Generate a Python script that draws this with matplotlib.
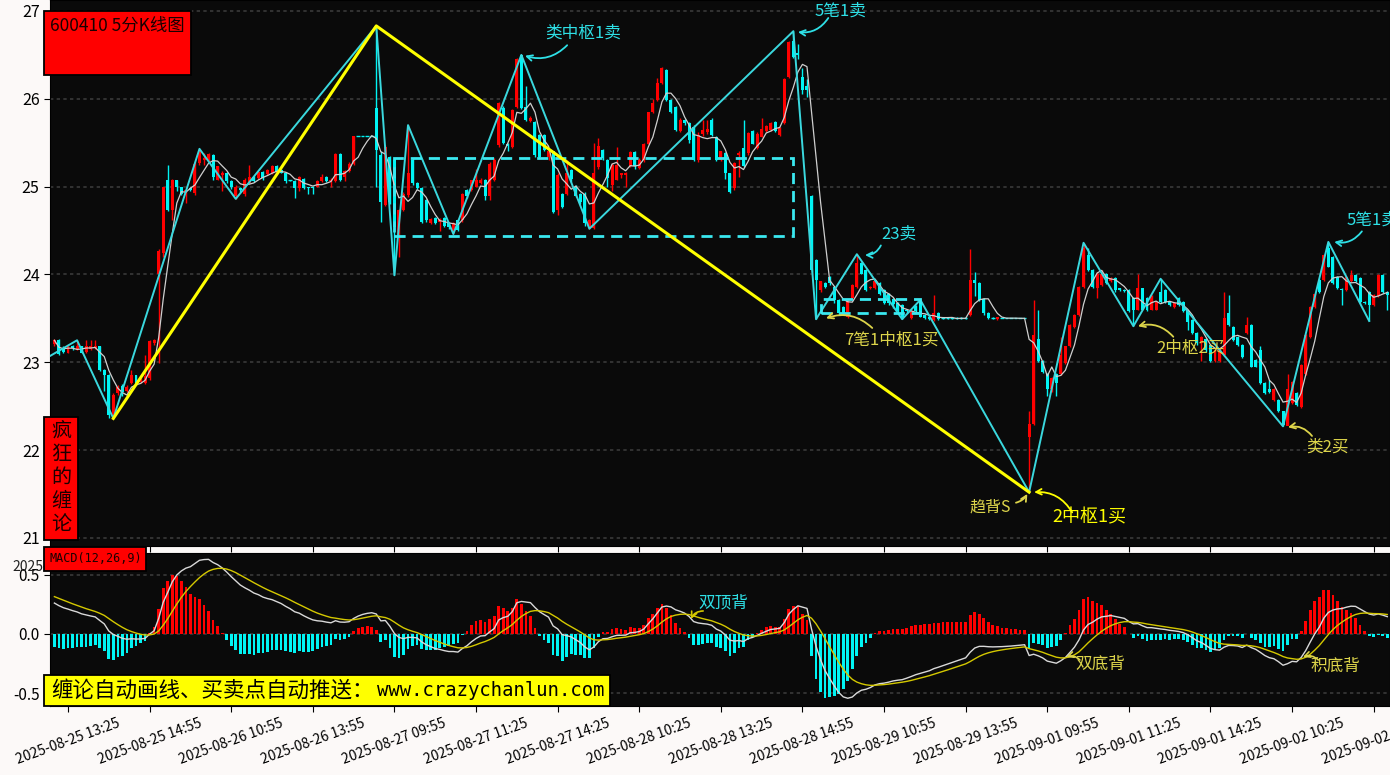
import numpy as np
import pandas as pd
import matplotlib
matplotlib.use("Agg")
import matplotlib.pyplot as plt
from matplotlib.patches import Rectangle

plt.rcParams['font.family'] = ['Noto Sans CJK SC', 'DejaVu Sans']
plt.rcParams['axes.unicode_minus'] = False

W, H = 1390, 775

# x tick labels (one every 18 five-minute bars, first at bar 3)
tick_labels = ["2025-08-25 13:25", "2025-08-25 14:55", "2025-08-26 10:55", "2025-08-26 13:55",
               "2025-08-27 09:55", "2025-08-27 11:25", "2025-08-27 14:25", "2025-08-28 10:25",
               "2025-08-28 13:25", "2025-08-28 14:55", "2025-08-29 10:55", "2025-08-29 13:55",
               "2025-09-01 09:55", "2025-09-01 11:25", "2025-09-01 14:25", "2025-09-02 10:25",
               "2025-09-02 13:25"]

# 5-minute bars
open_ = [
    23.21, 23.25, 23.16, 23.11, 23.18, 23.15, 23.18, 23.12, 23.15, 23.16,
    23.18, 22.91, 22.86, 22.39, 22.65, 22.73, 22.67, 22.76, 22.85, 22.77,
    22.76, 22.82, 23.22, 24.00, 24.24, 25.07, 24.73, 25.07, 24.99, 24.94,
    24.98, 24.93, 25.27, 25.30, 25.30, 25.36, 25.08, 25.13, 25.16, 25.06,
    24.89, 24.98, 24.91, 25.04, 25.11, 25.10, 25.17, 25.14, 25.15, 25.24,
    25.19, 25.16, 25.07, 25.06, 24.98, 25.09, 24.99, 25.00, 25.00, 25.06,
    25.11, 25.06, 25.06, 25.37, 25.11, 25.18, 25.26, 25.58, 25.58, 25.58,
    25.58, 25.89, 25.36, 24.79, 25.34, 25.30, 24.45, 24.73, 24.90, 25.30,
    25.04, 24.98, 24.85, 24.59, 24.64, 24.60, 24.64, 24.59, 24.49, 24.62,
    24.62, 24.96, 24.96, 25.00, 25.04, 25.08, 24.89, 25.07, 25.47, 25.90,
    25.49, 25.45, 25.91, 26.50, 25.91, 25.75, 25.74, 25.59, 25.59, 25.34,
    25.40, 24.73, 24.92, 24.92, 25.19, 25.00, 24.92, 24.92, 24.53, 24.53,
    25.22, 25.42, 25.30, 25.02, 25.08, 25.13, 25.13, 25.23, 25.39, 25.21,
    25.30, 25.49, 25.85, 25.99, 26.18, 26.33, 25.99, 25.91, 25.63, 25.76,
    25.72, 25.68, 25.30, 25.60, 25.62, 25.76, 25.57, 25.30, 25.38, 25.15,
    24.98, 25.36, 25.44, 25.38, 25.63, 25.44, 25.57, 25.63, 25.64, 25.74,
    25.59, 25.72, 26.25, 26.66, 26.52, 26.25, 26.14, 24.89, 24.16, 23.82,
    23.90, 23.97, 23.86, 23.71, 23.63, 23.52, 23.73, 23.86, 24.13, 24.05,
    23.84, 23.84, 23.90, 23.82, 23.78, 23.72, 23.68, 23.65, 23.59, 23.50,
    23.64, 23.69, 23.54, 23.51, 23.48, 23.56, 23.50, 23.50, 23.50, 23.50,
    23.50, 23.50, 23.54, 23.94, 23.90, 23.72, 23.56, 23.50, 23.49, 23.50,
    23.50, 23.50, 23.50, 23.50, 23.50, 22.15, 22.30, 23.27, 23.01, 22.87,
    22.70, 22.87, 22.87, 22.99, 23.18, 23.40, 23.54, 23.86, 24.22, 24.05,
    23.84, 23.88, 24.01, 23.92, 23.96, 23.84, 23.82, 23.82, 23.73, 23.60,
    23.84, 23.73, 23.60, 23.60, 23.80, 23.82, 23.69, 23.63, 23.73, 23.69,
    23.58, 23.48, 23.33, 23.22, 23.27, 23.20, 23.01, 23.01, 23.08, 23.56,
    23.40, 23.29, 23.20, 23.33, 23.42, 23.03, 23.14, 22.76, 22.70, 22.57,
    22.57, 22.44, 22.27, 22.53, 22.65, 22.49, 22.87, 23.29, 23.63, 23.94,
    23.94, 24.30, 24.20, 23.97, 23.83, 23.82, 23.92, 23.99, 23.96, 23.69,
    23.80, 23.65, 23.75, 23.99, 23.80,
]
close = [
    23.25, 23.09, 23.12, 23.18, 23.16, 23.18, 23.11, 23.18, 23.18, 23.19,
    22.91, 22.86, 22.40, 22.63, 22.72, 22.66, 22.72, 22.85, 22.76, 22.80,
    22.84, 23.24, 23.25, 24.27, 24.99, 24.73, 25.08, 24.99, 24.92, 24.96,
    24.96, 25.26, 25.42, 25.32, 25.37, 25.11, 25.23, 25.15, 25.06, 24.99,
    25.00, 24.96, 25.08, 25.11, 25.06, 25.17, 25.10, 25.19, 25.24, 25.17,
    25.16, 25.06, 25.07, 24.98, 25.11, 24.98, 24.98, 24.98, 25.06, 25.11,
    25.06, 25.08, 25.37, 25.07, 25.18, 25.26, 25.58, 25.58, 25.58, 25.58,
    25.58, 25.42, 24.82, 25.45, 24.82, 24.54, 24.73, 24.92, 25.15, 25.04,
    24.98, 24.60, 24.62, 24.63, 24.58, 24.63, 24.55, 24.54, 24.59, 24.51,
    24.92, 24.89, 25.07, 25.08, 25.07, 24.89, 25.26, 25.30, 25.95, 25.50,
    25.46, 25.87, 26.45, 25.89, 25.76, 25.78, 25.36, 25.34, 25.42, 25.40,
    24.71, 25.13, 24.77, 25.15, 25.09, 24.89, 24.83, 24.58, 24.62, 25.15,
    25.46, 25.32, 25.10, 25.25, 25.25, 25.15, 25.15, 25.39, 25.23, 25.30,
    25.49, 25.85, 25.95, 26.18, 26.35, 25.99, 25.85, 25.65, 25.76, 25.72,
    25.53, 25.30, 25.59, 25.65, 25.66, 25.59, 25.30, 25.40, 25.15, 24.94,
    25.27, 25.38, 25.23, 25.61, 25.49, 25.60, 25.66, 25.69, 25.72, 25.63,
    25.67, 26.23, 26.65, 26.48, 26.50, 26.10, 26.10, 24.05, 23.94, 23.92,
    23.86, 23.90, 23.71, 23.56, 23.56, 23.71, 23.88, 24.13, 24.01, 23.82,
    23.86, 23.92, 23.78, 23.67, 23.67, 23.66, 23.58, 23.52, 23.58, 23.58,
    23.58, 23.52, 23.50, 23.49, 23.56, 23.49, 23.50, 23.50, 23.50, 23.50,
    23.50, 23.50, 23.94, 23.90, 23.71, 23.56, 23.50, 23.50, 23.51, 23.50,
    23.50, 23.50, 23.50, 23.50, 23.50, 22.30, 23.31, 23.01, 22.89, 22.70,
    22.82, 22.76, 23.08, 23.18, 23.42, 23.54, 23.86, 24.30, 24.05, 23.86,
    24.01, 24.01, 23.90, 23.96, 23.82, 23.82, 23.81, 23.58, 23.60, 23.84,
    23.60, 23.60, 23.75, 23.69, 23.69, 23.69, 23.65, 23.67, 23.65, 23.58,
    23.46, 23.33, 23.22, 23.29, 23.14, 23.01, 23.14, 23.16, 23.50, 23.42,
    23.25, 23.20, 23.06, 23.42, 22.95, 22.95, 22.76, 22.65, 22.66, 22.70,
    22.44, 22.28, 22.70, 22.78, 22.51, 22.97, 23.31, 23.63, 23.78, 23.80,
    24.22, 24.09, 23.90, 23.84, 23.82, 23.97, 23.99, 23.92, 23.69, 23.67,
    23.65, 23.77, 23.99, 23.80, 23.76,
]
high = [
    23.26, 23.26, 23.18, 23.20, 23.20, 23.25, 23.19, 23.25, 23.25, 23.25,
    23.19, 22.92, 22.87, 22.65, 22.74, 22.75, 22.74, 22.91, 22.86, 22.82,
    23.08, 23.25, 23.27, 24.29, 25.00, 25.25, 25.09, 25.08, 25.00, 24.97,
    25.00, 25.28, 25.43, 25.38, 25.38, 25.37, 25.24, 25.18, 25.17, 25.07,
    25.02, 24.99, 25.10, 25.25, 25.12, 25.18, 25.18, 25.20, 25.25, 25.25,
    25.20, 25.17, 25.08, 25.07, 25.12, 25.10, 25.00, 25.01, 25.07, 25.14,
    25.12, 25.10, 25.38, 25.38, 25.19, 25.28, 25.58, 25.58, 25.58, 25.58,
    25.58, 26.83, 25.40, 25.47, 25.35, 25.31, 24.75, 24.94, 25.70, 25.32,
    25.05, 24.99, 24.86, 24.64, 24.65, 24.64, 24.65, 24.60, 24.60, 24.63,
    24.93, 24.97, 25.08, 25.20, 25.10, 25.09, 25.28, 25.32, 25.96, 25.92,
    25.50, 25.88, 26.46, 26.50, 26.14, 25.80, 25.75, 25.60, 25.60, 25.42,
    25.41, 25.15, 24.93, 25.30, 25.20, 25.02, 24.93, 24.94, 24.63, 25.50,
    25.55, 25.43, 25.31, 25.27, 25.45, 25.16, 25.17, 25.40, 25.41, 25.32,
    25.50, 25.85, 26.00, 26.24, 26.36, 26.34, 26.00, 25.92, 25.78, 25.77,
    25.73, 25.70, 25.62, 25.76, 25.76, 25.78, 25.58, 25.41, 25.39, 25.16,
    25.28, 25.40, 25.76, 25.62, 25.64, 25.62, 25.78, 25.70, 25.73, 25.75,
    25.68, 26.24, 26.66, 26.77, 26.62, 26.35, 26.22, 24.90, 24.17, 23.93,
    23.91, 23.98, 23.87, 23.72, 23.64, 23.72, 23.89, 24.23, 24.14, 24.06,
    23.87, 23.93, 23.91, 23.83, 23.79, 23.73, 23.69, 23.66, 23.60, 23.59,
    23.65, 23.71, 23.55, 23.52, 23.77, 23.57, 23.51, 23.51, 23.51, 23.51,
    23.51, 23.51, 24.29, 24.03, 23.91, 23.73, 23.57, 23.51, 23.52, 23.50,
    23.50, 23.50, 23.50, 23.50, 23.50, 22.44, 23.71, 23.60, 23.02, 22.88,
    22.83, 22.88, 23.29, 23.19, 23.43, 23.55, 23.87, 24.36, 24.30, 24.06,
    24.03, 24.05, 24.02, 23.97, 23.97, 23.85, 23.83, 23.83, 23.74, 24.01,
    23.85, 23.74, 23.76, 23.70, 23.95, 23.83, 23.70, 23.68, 23.74, 23.70,
    23.59, 23.49, 23.34, 23.30, 23.28, 23.21, 23.15, 23.17, 23.80, 23.77,
    23.41, 23.30, 23.21, 23.52, 23.43, 23.04, 23.18, 22.77, 22.80, 22.71,
    22.58, 22.45, 22.87, 22.79, 22.66, 22.98, 23.32, 23.64, 23.79, 23.95,
    24.23, 24.37, 24.21, 23.98, 23.84, 23.98, 24.05, 24.00, 23.97, 23.70,
    23.81, 23.78, 24.00, 24.00, 23.81,
]
low = [
    23.19, 23.08, 23.10, 23.10, 23.14, 23.14, 23.10, 23.11, 23.14, 23.15,
    22.90, 22.67, 22.37, 22.36, 22.63, 22.62, 22.66, 22.75, 22.74, 22.76,
    22.75, 22.80, 23.20, 22.99, 24.20, 24.72, 24.62, 24.95, 24.90, 24.81,
    24.95, 24.90, 25.25, 25.25, 25.28, 25.08, 25.07, 24.95, 25.04, 24.97,
    24.86, 24.94, 24.89, 25.03, 25.05, 25.09, 25.08, 25.13, 25.14, 25.16,
    25.15, 25.04, 25.06, 24.87, 24.95, 24.97, 24.92, 24.92, 24.99, 25.05,
    25.05, 25.00, 25.05, 25.06, 25.06, 25.17, 25.25, 25.58, 25.58, 25.58,
    25.58, 25.00, 24.60, 24.78, 24.80, 23.99, 24.20, 24.72, 24.88, 25.02,
    24.97, 24.58, 24.60, 24.57, 24.57, 24.49, 24.54, 24.52, 24.46, 24.50,
    24.60, 24.87, 24.95, 24.99, 25.03, 24.85, 24.85, 25.06, 25.45, 25.48,
    25.40, 25.44, 25.90, 25.88, 25.75, 25.73, 25.34, 25.33, 25.40, 25.30,
    24.70, 24.68, 24.76, 24.90, 25.05, 24.88, 24.80, 24.55, 24.52, 24.52,
    25.20, 25.30, 25.00, 24.95, 25.07, 25.10, 25.00, 25.22, 25.20, 25.20,
    25.28, 25.48, 25.84, 25.98, 26.17, 25.97, 25.84, 25.63, 25.62, 25.70,
    25.50, 25.29, 25.28, 25.58, 25.60, 25.58, 25.29, 25.29, 25.09, 24.93,
    24.96, 25.11, 25.22, 25.36, 25.48, 25.43, 25.56, 25.62, 25.63, 25.62,
    25.58, 25.71, 26.24, 26.46, 26.45, 26.05, 26.02, 24.03, 23.49, 23.80,
    23.84, 23.88, 23.68, 23.54, 23.54, 23.50, 23.72, 23.85, 24.00, 23.81,
    23.83, 23.83, 23.77, 23.66, 23.65, 23.62, 23.56, 23.49, 23.56, 23.49,
    23.57, 23.51, 23.49, 23.48, 23.47, 23.48, 23.49, 23.49, 23.49, 23.49,
    23.49, 23.49, 23.53, 23.75, 23.70, 23.54, 23.49, 23.49, 23.48, 23.50,
    23.50, 23.50, 23.50, 23.50, 23.50, 21.52, 22.29, 23.00, 22.88, 22.61,
    22.66, 22.62, 22.86, 22.98, 23.17, 23.39, 23.53, 23.85, 24.04, 23.85,
    23.73, 23.87, 23.89, 23.91, 23.80, 23.81, 23.80, 23.57, 23.41, 23.59,
    23.59, 23.58, 23.59, 23.59, 23.68, 23.68, 23.64, 23.62, 23.64, 23.57,
    23.37, 23.32, 23.20, 23.01, 23.12, 23.00, 23.00, 23.00, 23.07, 23.41,
    23.24, 23.19, 23.05, 23.32, 22.94, 22.94, 22.75, 22.64, 22.65, 22.56,
    22.43, 22.27, 22.28, 22.52, 22.50, 22.48, 22.86, 23.28, 23.62, 23.79,
    23.93, 24.08, 23.89, 23.83, 23.65, 23.81, 23.91, 23.91, 23.68, 23.66,
    23.47, 23.64, 23.74, 23.79, 23.60,
]

# bi (strokes), segment and zhongshu boxes
bi_idx = [-1, 5, 13, 32, 40, 71, 75, 78, 88, 103, 118, 163, 168, 177, 187, 191,
          215, 227, 238, 244, 271, 281, 290]
bi_price = [23.07, 23.25, 22.36, 25.43, 24.86, 26.83, 23.99, 25.70, 24.46, 26.50, 24.52,
            26.77, 23.49, 24.23, 23.49, 23.71, 21.52, 24.36, 23.41, 23.95, 22.27, 24.37, 23.47]
seg_idx = [13, 71, 215]
seg_price = [22.36, 26.83, 21.52]
zs_start = [75, 169]
zs_end = [163, 191]
zs_low = [24.44, 23.56]
zs_high = [25.33, 23.72]

# MACD state carried in from bars before the first visible one
ema12_start, ema26_start, dea_start = 23.10, 22.83, 0.33

RED = "#ff0000"
CYAN = "#00f4f4"
BG = "#0a0a0a"

df = pd.DataFrame({"open": open_, "high": high, "low": low, "close": close})
x = np.arange(len(df))
df["ma5"] = df["close"].rolling(5, min_periods=1).mean()

e12, e26, dea = ema12_start, ema26_start, dea_start
dif_list, dea_list = [], []
for c in df["close"]:
    e12 += (c - e12) * 2 / 13
    e26 += (c - e26) * 2 / 27
    d = e12 - e26
    dea += (d - dea) * 2 / 10
    dif_list.append(d)
    dea_list.append(dea)
df["dif"] = dif_list
df["dea"] = dea_list
df["hist"] = 2 * (df["dif"] - df["dea"])

fig = plt.figure(figsize=(13.9, 7.75), dpi=100, facecolor="#fcf9f8")
L = 50 / W
ax = fig.add_axes([L, 1 - 546 / H, 1 - L, 546 / H], facecolor=BG)
axm = fig.add_axes([L, 1 - 706 / H, 1 - L, 153 / H], facecolor=BG, sharex=ax)

# candles
up = (df["close"] > df["open"]).values
flat = (df["close"] == df["open"]).values
col = np.where(up, RED, CYAN)
ax.vlines(x, df["low"], df["high"], colors=col, lw=1, zorder=2)
bot = np.minimum(df["open"], df["close"]).values
hgt = (df["close"] - df["open"]).abs().values
ax.bar(x[~flat], hgt[~flat], bottom=bot[~flat], width=0.66, color=col[~flat], lw=0, zorder=3)
ax.hlines(df["close"][flat], x[flat] - 0.4, x[flat] + 0.4, colors=CYAN, lw=1, zorder=3)
ax.plot(x, df["ma5"], color="#cfcfcf", lw=0.9, zorder=4)

ax.plot(bi_idx, bi_price, color="#3ad8de", lw=1.4, zorder=5)
ax.plot(seg_idx, seg_price, color="#ffff00", lw=2.2, zorder=6)
for s, e, lo, hi in zip(zs_start, zs_end, zs_low, zs_high):
    ax.add_patch(Rectangle((s, lo), e - s, hi - lo, fill=False, ec="#3ae8f0", lw=2,
                           ls=(0, (4, 2.5)), zorder=5))

ax.set_xlim(-0.97, 294.6)
ax.set_ylim(20.907, 27.125)
ax.set_yticks(range(21, 28))
ax.set_yticklabels([str(v) for v in range(21, 28)], fontsize=11.5)
ax.yaxis.grid(True, color="#3a3a3a", ls=(0, (2, 2)), lw=1.2, zorder=1)
ax.tick_params(axis="x", labelbottom=False, length=4)
ax.tick_params(axis="y", length=4)

# annotations (text position, arrow tail, arrow head)
cyan_txt = "#2ee0e6"
pale_y = "#dcd44a"
notes = [
    ("类中枢1卖", (116.6, 26.75), (113.1, 26.61), (103.8, 26.49), cyan_txt, 12, -0.3),
    ("5笔1卖", (173.3, 27.0), (170.7, 26.92), (164.0, 26.76), cyan_txt, 12, -0.3),
    ("23卖", (186.3, 24.46), (182.3, 24.33), (178.8, 24.22), cyan_txt, 12, -0.3),
    ("7笔1中枢1买", (184.6, 23.25), (180.4, 23.39), (170.2, 23.50), pale_y, 12, 0.3),
    ("趋背S", (206.4, 21.35), (212.1, 21.40), (214.6, 21.50), pale_y, 11.5, 0.2),
    ("2中枢1买", (228.2, 21.23), (224.5, 21.29), (216.1, 21.52), "#ffff00", 13, 0.3),
    ("2中枢2买", (250.5, 23.16), (246.8, 23.29), (239.0, 23.41), pale_y, 12, 0.3),
    ("类2买", (280.7, 22.03), (277.4, 22.16), (272.1, 22.26), pale_y, 12, 0.3),
    ("5笔1卖", (290.7, 24.62), (288.4, 24.49), (282.3, 24.37), cyan_txt, 12, -0.3),
]
for txt, tpos, tail, head, c, fs, rad in notes:
    ax.text(tpos[0], tpos[1], txt, color=c, fontsize=fs, ha="center", va="center", zorder=8,
            clip_on=False)
    ax.annotate("", xy=head, xytext=tail, zorder=8,
                arrowprops=dict(arrowstyle="->", color=c, lw=1.3, shrinkA=0, shrinkB=0,
                                connectionstyle=f"arc3,rad={rad}"))

# MACD panel
hist = df["hist"].values
axm.bar(x, hist, width=0.6, color=np.where(hist >= 0, RED, CYAN), lw=0, zorder=2)
axm.plot(x, df["dif"], color="#d9d9d9", lw=1, zorder=3)
axm.plot(x, df["dea"], color="#d4c800", lw=1, zorder=3)
axm.set_ylim(-0.61, 0.686)
axm.set_yticks([0.5, 0.0, -0.5])
axm.set_yticklabels(["0.5", "0.0", "-0.5"], fontsize=11)
for v in [0.5, 0.0, -0.5]:
    axm.axhline(v, color="#3a3a3a", ls=(0, (2, 2)), lw=1.2, zorder=1)
axm.set_xticks([3 + 18 * k for k in range(len(tick_labels))])
axm.set_xticklabels(tick_labels, rotation=20, ha="center", fontsize=10)
axm.tick_params(length=4)

mnotes = [
    ("双顶背", (147.5, 0.26), (143.1, 0.195), (140.4, 0.127), cyan_txt, "#d4c800", 0.3),
    ("双底背", (230.7, -0.26), (226.2, -0.22), (223.2, -0.195), pale_y, pale_y, 0.3),
    ("积底背", (282.5, -0.27), (278.8, -0.22), (275.4, -0.195), pale_y, pale_y, 0.3),
]
for txt, tpos, tail, head, c, ac, rad in mnotes:
    axm.text(tpos[0], tpos[1], txt, color=c, fontsize=12, ha="center", va="center", zorder=8)
    axm.annotate("", xy=head, xytext=tail, zorder=8,
                 arrowprops=dict(arrowstyle="->", color=ac, lw=1.2, shrinkA=0, shrinkB=0,
                                 connectionstyle=f"arc3,rad={rad}"))

for a in (ax, axm):
    for sp in a.spines.values():
        sp.set_color("black")


# labels stuck on the figure
def box(x0, y0, x1, y1, fc):
    fig.add_artist(Rectangle((x0 / W, 1 - y1 / H), (x1 - x0) / W, (y1 - y0) / H,
                             transform=fig.transFigure, fc=fc, ec="black", lw=1.3, zorder=5))


box(44, 11, 191, 75, RED)
fig.text(50 / W, 1 - 26 / H, "600410 5分K线图", fontsize=12.5, color="#1a0000",
         va="center", ha="left", zorder=6)

box(44, 417, 78, 540, RED)
for k, ch in enumerate("疯狂的缠论"):
    fig.text(61 / W, 1 - (431 + 23.3 * k) / H, ch, fontsize=14.5, color="#1a0000",
             ha="center", va="center", zorder=6)

box(44, 547, 146, 571, RED)
fig.text(50 / W, 1 - 559 / H, "MACD(12,26,9)", fontsize=8.5, family="DejaVu Sans Mono",
         color="#1a0000", va="center", ha="left", zorder=6)

box(44, 675, 610, 706, "#ffff00")
fig.text(51 / W, 1 - 691 / H, "缠论自动画线、买卖点自动推送：", fontsize=15.5, color="black",
         va="center", ha="left", zorder=6)
fig.text(377 / W, 1 - 691 / H, "www.crazychanlun.com", fontsize=13.6, family="DejaVu Sans Mono",
         color="black", va="center", ha="left", zorder=6)

fig.text(12 / W, 1 - 567 / H, "2025-", fontsize=10, color="#222222", va="center", ha="left")

fig.savefig("out.png", dpi=100, facecolor=fig.get_facecolor())
